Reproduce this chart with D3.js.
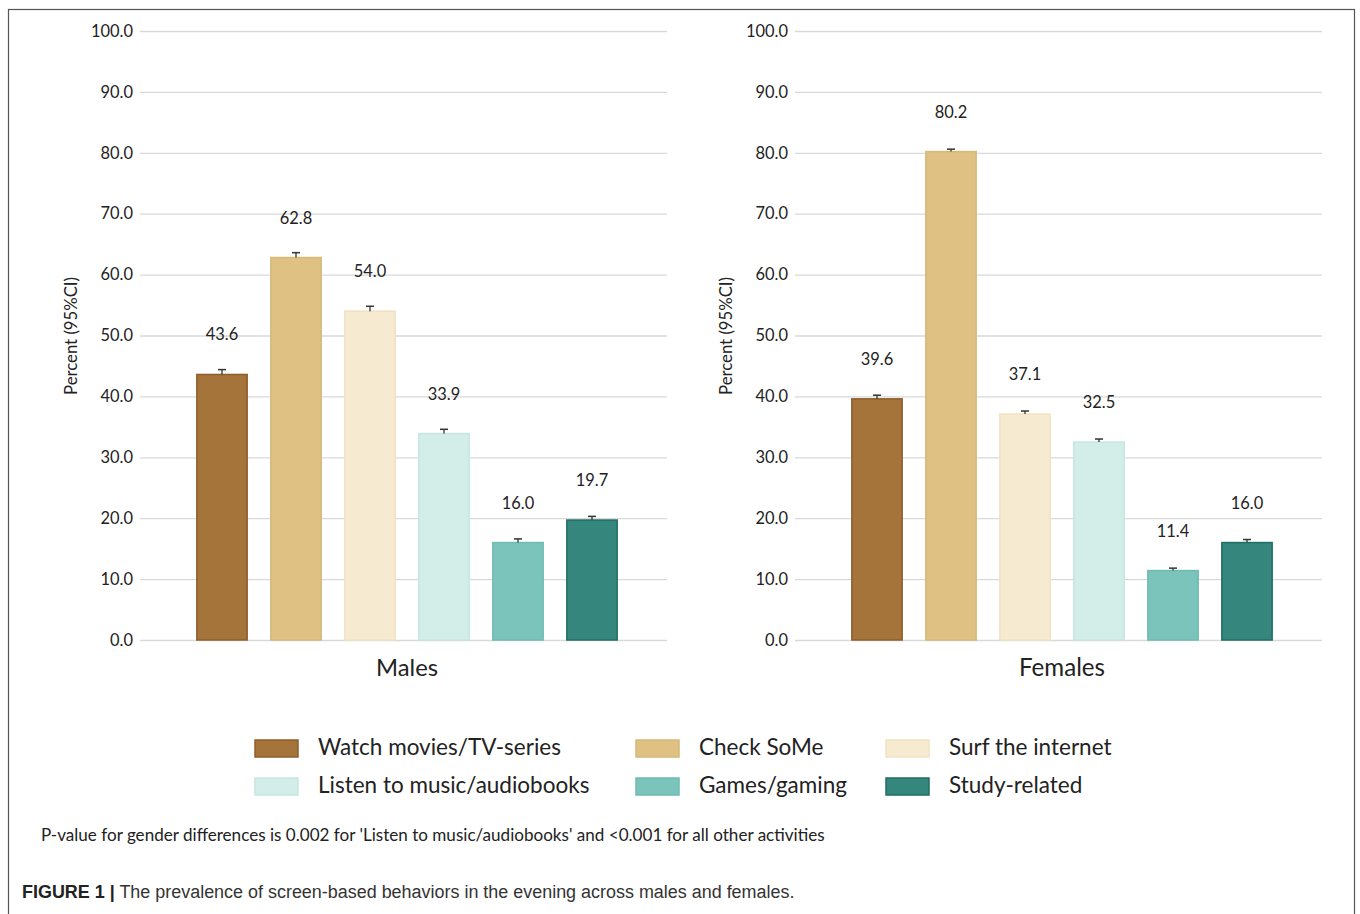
<!DOCTYPE html>
<html><head><meta charset="utf-8">
<script src="https://cdn.jsdelivr.net/npm/d3@7"></script>
<style>body{margin:0;background:#fff}svg{display:block}</style>
</head><body>
<svg id="c" width="1360" height="914"></svg>
<script>
const categories = ["Watch movies/TV-series","Check SoMe","Surf the internet","Listen to music/audiobooks","Games/gaming","Study-related"];
const panels = ["Males","Females"];
const malesValues = [43.6, 62.8, 54.0, 33.9, 16.0, 19.7];
const femalesValues = [39.6, 80.2, 37.1, 32.5, 11.4, 16.0];
const malesCI = [0.8, 0.8, 0.8, 0.7, 0.6, 0.6];
const femalesCI = [0.6, 0.4, 0.5, 0.5, 0.4, 0.5];
const yTicks = [0,10,20,30,40,50,60,70,80,90,100];
const fills = ["#a5743b","#dfc184","#f6ead0","#d3ede9","#7bc4bb","#35867c"];
const strokes = ["#8e5e2a","#d6b877","#f0e2c2","#c6e6e1","#6fbab1","#1f6e64"];
const footnote = "P-value for gender differences is 0.002 for 'Listen to music/audiobooks' and <0.001 for all other activities";
const captionBold = "FIGURE 1 |";
const captionText = " The prevalence of screen-based behaviors in the evening across males and females.";

const svg = d3.select("#c");
const font = "Lato,'Open Sans',sans-serif";
svg.append("rect").attr("x",8.5).attr("y",9.5).attr("width",1346).attr("height",920)
  .attr("fill","none").attr("stroke","#555").attr("stroke-width",1.2);

function fit(sel, w){ sel.each(function(){ const l=this.getComputedTextLength(); const fs=parseFloat(this.style.fontSize); this.style.fontSize=(fs*w/l).toFixed(2)+"px"; }); }

const y = d3.scaleLinear().domain([0,100]).range([640,31]);
const data = [malesValues, femalesValues];
const cis = [malesCI, femalesCI];
const offsets = [0, 655];

panels.forEach((p,pi)=>{
  const g = svg.append("g").attr("transform",`translate(${offsets[pi]},0)`);
  const gx0 = 140, gx1 = 667;
  const x = d3.scaleBand().domain(categories).range([185,629]).paddingInner(0.32).paddingOuter(0.16);
  const ax = g.append("g").attr("transform",`translate(${gx0},0)`)
    .call(d3.axisLeft(y).tickValues(yTicks).tickFormat(d3.format(".1f")).tickSize(-(gx1-gx0)).tickPadding(7));
  ax.select(".domain").remove();
  ax.selectAll(".tick line").attr("stroke","#d9d9d9").attr("stroke-width",1.3);
  ax.selectAll(".tick text").attr("fill","#222").style("font-family",font).style("font-size","16px");
  fit(ax.selectAll(".tick text").filter(d=>d===100), 42);
  const fs = ax.selectAll(".tick text").filter(d=>d===100).style("font-size");
  ax.selectAll(".tick text").style("font-size",fs);
  const yt = g.append("text").attr("transform","translate(77,336) rotate(-90)").attr("text-anchor","middle")
    .style("font-family",font).style("font-size","16px").attr("fill","#222").text("Percent (95%CI)");
  fit(yt,118);
  const vals = data[pi], ci = cis[pi];
  g.selectAll("rect.bar").data(categories).join("rect").attr("class","bar")
    .attr("x",d=>x(d)).attr("width",x.bandwidth())
    .attr("y",(d,i)=>y(vals[i])).attr("height",(d,i)=>y(0)-y(vals[i]))
    .attr("fill",(d,i)=>fills[i]).attr("stroke",(d,i)=>strokes[i]).attr("stroke-width",1.5);
  const eb = g.selectAll("g.eb").data(categories).join("g").attr("class","eb");
  eb.append("line").attr("x1",d=>x(d)+x.bandwidth()/2).attr("x2",d=>x(d)+x.bandwidth()/2)
    .attr("y1",(d,i)=>y(vals[i])).attr("y2",(d,i)=>y(vals[i]+ci[i])).attr("stroke","#333").attr("stroke-width",1.3);
  eb.append("line").attr("x1",d=>x(d)+x.bandwidth()/2-4).attr("x2",d=>x(d)+x.bandwidth()/2+4)
    .attr("y1",(d,i)=>y(vals[i]+ci[i])).attr("y2",(d,i)=>y(vals[i]+ci[i])).attr("stroke","#333").attr("stroke-width",1.5);
  g.selectAll("text.val").data(categories).join("text").attr("class","val")
    .attr("x",d=>x(d)+x.bandwidth()/2).attr("y",(d,i)=>y(vals[i])-34)
    .attr("text-anchor","middle").style("font-family",font).style("font-size",fs).attr("fill","#222")
    .text((d,i)=>d3.format(".1f")(vals[i]));
  const pt = g.append("text").attr("x",407).attr("y",676).attr("text-anchor","middle")
    .style("font-family",font).style("font-size","22px").attr("fill","#222").text(p);
  if (pi===0) fit(pt,62); else fit(pt,86);
});

// legend
const lx = [255, 636, 886], ly = [748, 786];
categories.forEach((c,i)=>{
  const col = i%3, row = Math.floor(i/3);
  svg.append("rect").attr("x",lx[col]).attr("y",ly[row]-8).attr("width",43).attr("height",17)
    .attr("fill",fills[i]).attr("stroke",strokes[i]).attr("stroke-width",1.5);
  const t = svg.append("text").attr("x",lx[col]+63).attr("y",ly[row]+7).style("font-family",font)
    .style("font-size","22px").attr("fill","#222").text(c);
  if (i===0) fit(t,243);
});
const lfs = svg.selectAll("text").filter(function(){return d3.select(this).text()===categories[0];}).style("font-size");
svg.selectAll("text").filter(function(){return categories.includes(d3.select(this).text());}).style("font-size",lfs);
const fn = svg.append("text").attr("x",41).attr("y",841).style("font-family",font).style("font-size","16px")
  .attr("fill","#222").text(footnote);
fit(fn,784);
const cap = svg.append("text").attr("x",22).attr("y",898).style("font-family","'Liberation Sans',Arial,sans-serif")
  .style("font-size","18px").attr("fill","#333");
cap.append("tspan").attr("font-weight","bold").attr("fill","#222").text(captionBold);
cap.append("tspan").text(captionText);
fit(cap,773);
</script>
</body></html>
